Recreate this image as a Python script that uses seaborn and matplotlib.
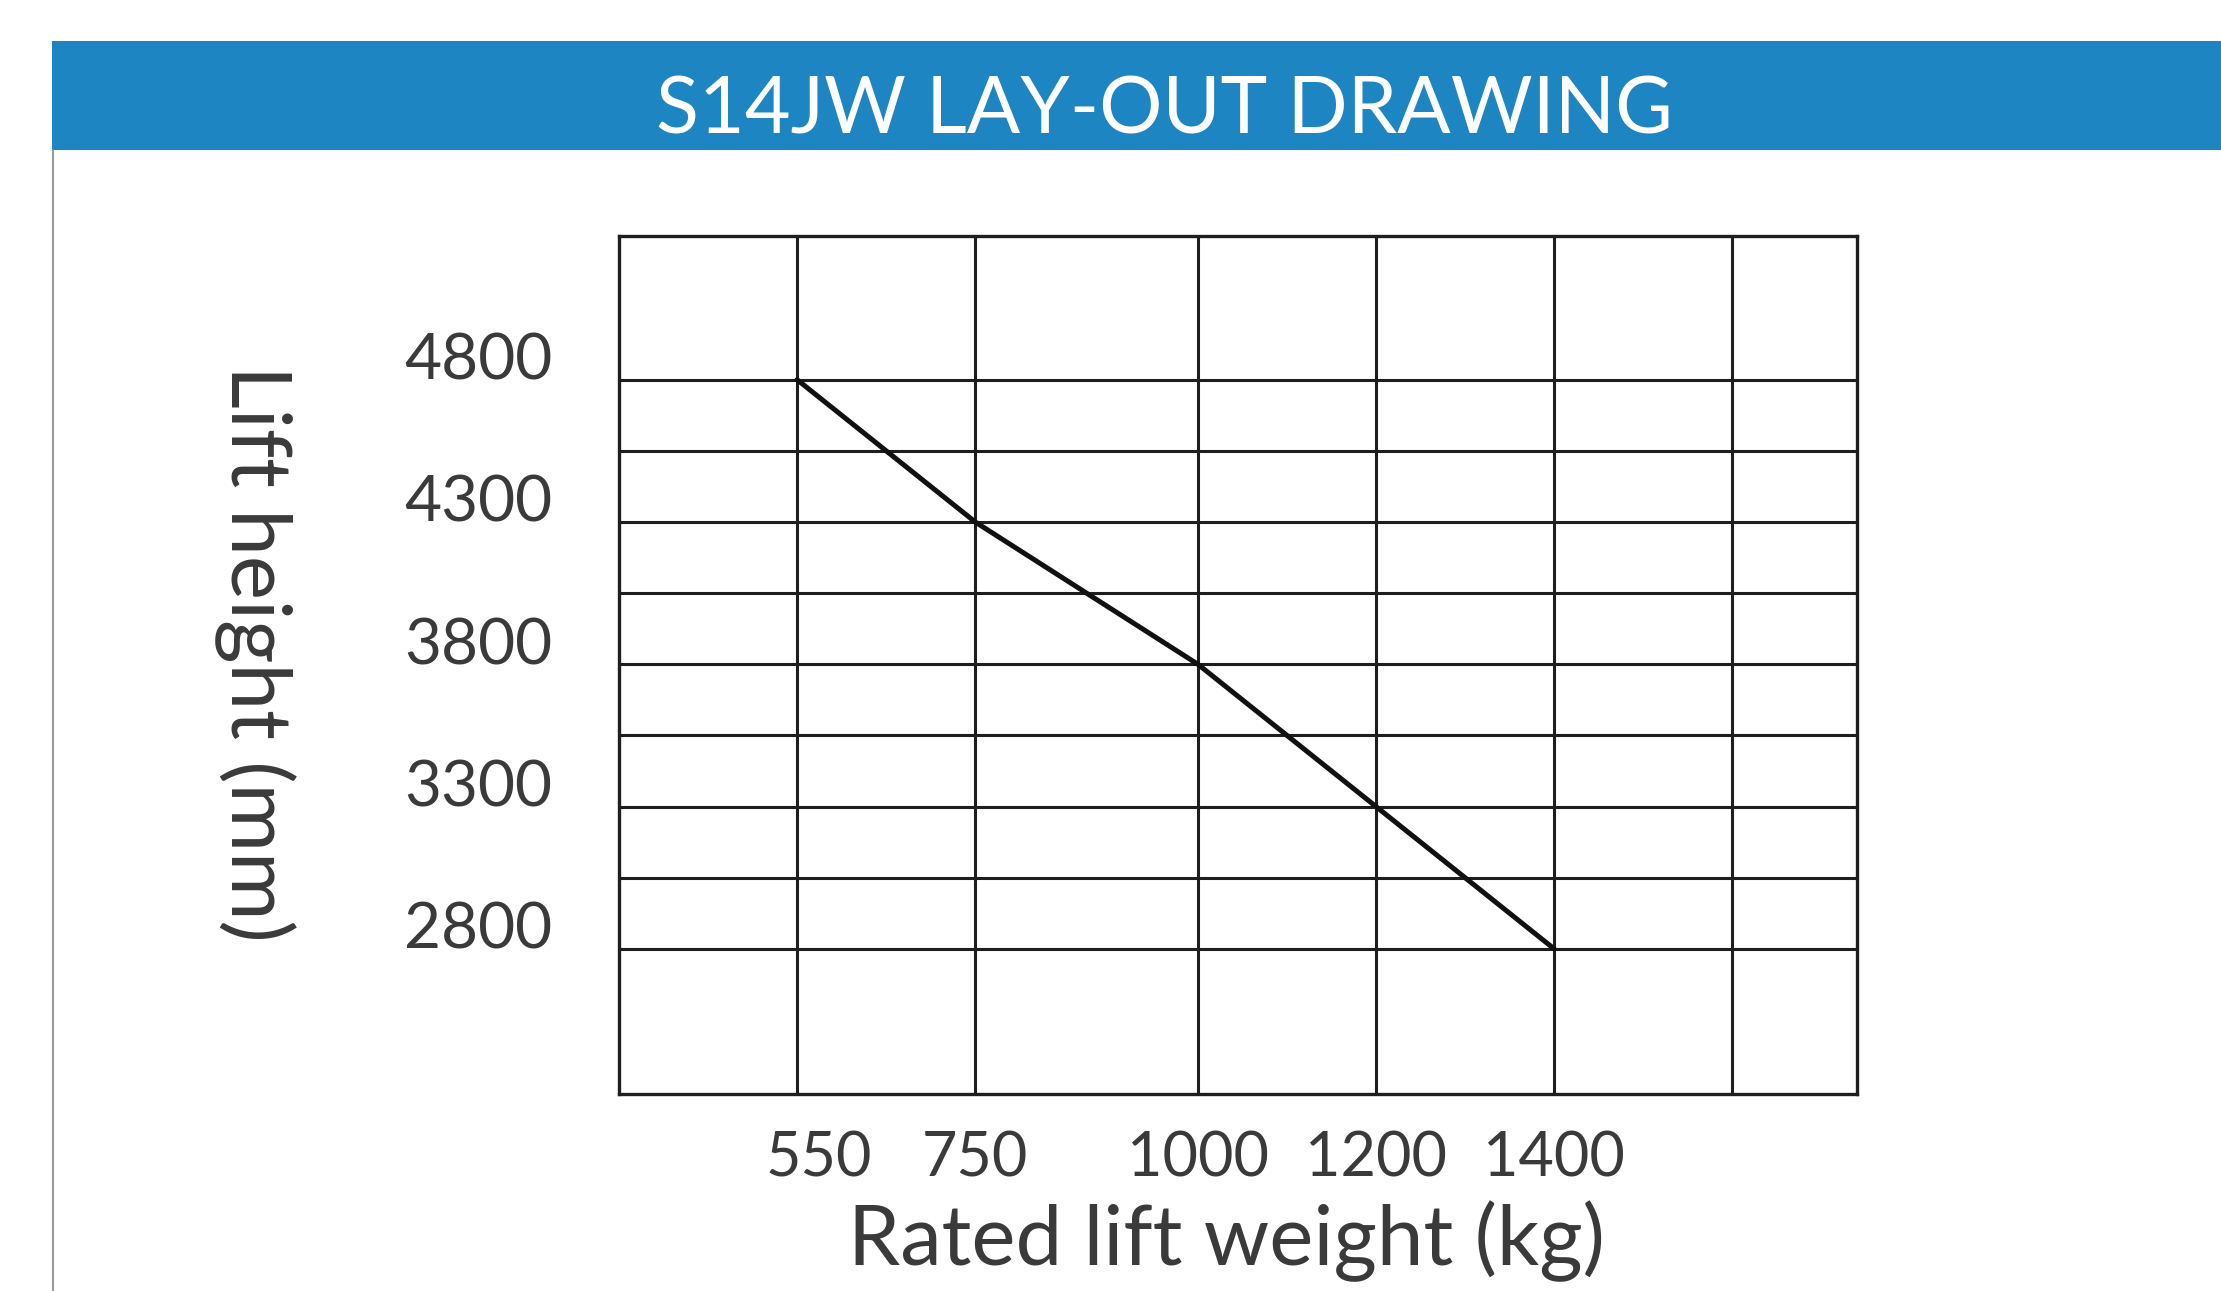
import matplotlib
matplotlib.use("Agg")
import matplotlib.pyplot as plt
import matplotlib.transforms as mtransforms
from matplotlib.patches import Rectangle
from matplotlib.lines import Line2D
import seaborn as sns


title = "S14JW LAY-OUT DRAWING"

# lift curve
rated_weight = [550, 750, 1000, 1200, 1400]   # kg
lift_height = [4800, 4300, 3800, 3300, 2800]  # mm

# grid of the drawing
x_grid = [550, 750, 1000, 1200, 1400, 1600]
x_labels = ["550", "750", "1000", "1200", "1400", ""]
y_major = [2800, 3300, 3800, 4300, 4800]
y_labels = ["2800", "3300", "3800", "4300", "4800"]
y_minor = [3050, 3550, 4050, 4550]

sns.set_style("white")
plt.rcParams["font.family"] = ["Lato", "DejaVu Sans"]

text_colour = "#3a3a3a"
grid_colour = "#1e1e1e"

figure = plt.figure(figsize=(22.21, 12.91), dpi=100)

# blue title band and the thin frame line on the left
figure.patches.append(Rectangle(
    (0.0234, 0.8838), 0.9766, 0.0844,
    transform=figure.transFigure, facecolor="#1d85c1", edgecolor="none"))
figure.lines.append(Line2D(
    [0.0237, 0.0237], [0.0, 0.8838],
    transform=figure.transFigure, color="#9a9a9a", lw=1.5))
figure.text(0.5245, 0.8965, title, color="white", fontsize=57,
    ha="center", va="baseline")

axes = figure.add_axes([0.2787, 0.1526, 0.5574, 0.6646])

sns.lineplot(x=rated_weight, y=lift_height, ax=axes,
    color="#111111", lw=3.6)

axes.set_xlim(350, 1740)
axes.set_ylim(2290, 5305)

axes.set_xticks(x_grid)
axes.set_xticklabels(x_labels)
axes.set_yticks(y_major)
axes.set_yticklabels(y_labels)
axes.set_yticks(y_minor, minor=True)

axes.grid(which="both", color=grid_colour, lw=2.2)
axes.set_axisbelow(True)
for spine in axes.spines.values():
    spine.set_color(grid_colour)
    spine.set_linewidth(2.4)

axes.tick_params(which="both", length=0, labelcolor=text_colour)
axes.tick_params(axis="y", pad=48, labelsize=46)
axes.tick_params(axis="x", pad=26, labelsize=44)
for label in axes.get_yticklabels():
    label.set_verticalalignment("baseline")

# the "550" label sits a little right of its grid line in the drawing
first = axes.get_xticklabels()[0]
first.set_transform(first.get_transform() + mtransforms.ScaledTranslation(
    0.22, 0, figure.dpi_scale_trans))

axes.set_xlabel("Rated lift weight (kg)", fontsize=60, color=text_colour)
axes.xaxis.label.set_verticalalignment("baseline")
axes.xaxis.set_label_coords(0.491, -0.199)

axes.set_ylabel("Lift height (mm)", fontsize=60, color=text_colour,
    rotation=270, va="center", ha="center")
axes.yaxis.set_label_coords(-0.294, 0.514)

plt.savefig("out.png", dpi=100)
